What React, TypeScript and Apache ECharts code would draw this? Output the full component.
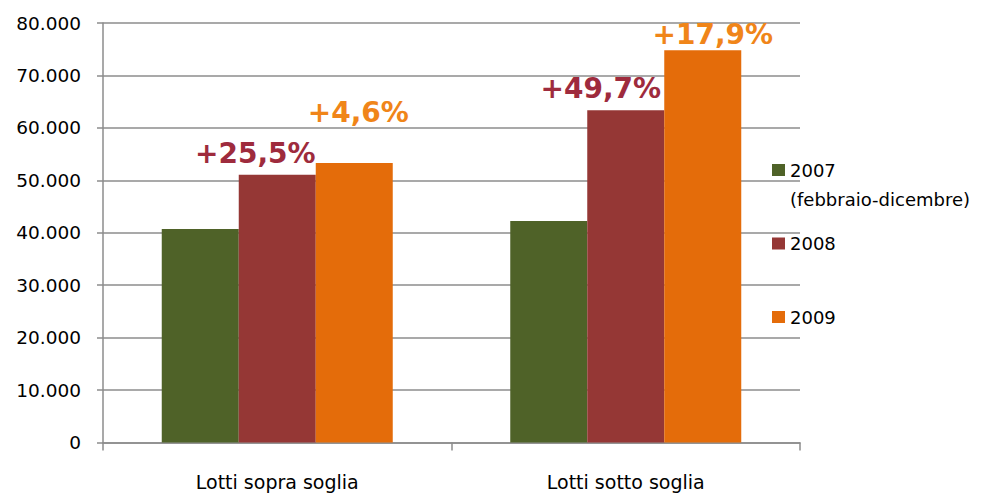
import React, { useEffect, useRef } from "react";
import * as echarts from "echarts";

const categories = ["Lotti sopra soglia", "Lotti sotto soglia"];
const seriesNames = ["2007", "2008", "2009"];
const values2007 = [40700, 42250];
const values2008 = [51050, 63350];
const values2009 = [53300, 74800];
const labels2008 = ["+25,5%", "+49,7%"];
const labels2009 = ["+4,6%", "+17,9%"];
const yTicks = [0, 10000, 20000, 30000, 40000, 50000, 60000, 70000, 80000];
const legendNote = "(febbraio-dicembre)";

const colors = ["#4F6228", "#953735", "#E46C0A"];
const labelColors = ["#9E2B3D", "#F08519"];

export default function App() {
  const ref = useRef<HTMLDivElement>(null);
  useEffect(() => {
    if (!ref.current) return;
    const chart = echarts.init(ref.current, undefined, { renderer: "svg" });
    const fmt = (v: number) =>
      String(Math.round(v)).replace(/\B(?=(\d{3})+(?!\d))/g, ".");
    const offs2008 = [[-22, -7], [-25, -8]];
    const offs2009 = [[4, -37], [10, -2]];
    const labelFont = {
      fontFamily: "DejaVu Sans",
      fontWeight: "bold" as const,
      fontSize: 28,
    };
    chart.setOption({
      animation: false,
      color: colors,
      grid: { left: 103, right: 190, top: 23, bottom: 50.5, containLabel: false },
      legend: {
        orient: "vertical",
        left: 772,
        top: 161,
        padding: 0,
        itemWidth: 13,
        itemHeight: 12,
        itemGap: 55.5,
        icon: "rect",
        data: seriesNames,
        textStyle: { fontFamily: "DejaVu Sans", fontSize: 18, color: "#000" },
      },
      graphic: [
        {
          type: "text",
          left: 790,
          top: 190,
          style: {
            text: legendNote,
            fontFamily: "DejaVu Sans",
            fontSize: 18,
            fill: "#000",
          },
        },
      ],
      xAxis: {
        type: "category",
        data: categories,
        axisLine: { show: true, lineStyle: { color: "#8c8c8c", width: 1.5 } },
        axisTick: { show: true, length: 8, lineStyle: { color: "#8c8c8c", width: 1.5 } },
        axisLabel: {
          margin: 30,
          fontFamily: "DejaVu Sans",
          fontSize: 19,
          color: "#000",
        },
      },
      yAxis: {
        type: "value",
        min: yTicks[0],
        max: yTicks[yTicks.length - 1],
        interval: 10000,
        axisLine: { show: true, lineStyle: { color: "#8c8c8c", width: 1.5 } },
        axisTick: { show: true, length: 6, lineStyle: { color: "#8c8c8c", width: 1.5 } },
        splitLine: { show: true, lineStyle: { color: "#8c8c8c", width: 1.5 } },
        axisLabel: {
          margin: 22,
          fontFamily: "DejaVu Sans",
          fontSize: 18.5,
          color: "#000",
          formatter: (v: number) => fmt(v),
        },
      },
      series: [
        {
          name: seriesNames[0],
          type: "bar",
          barWidth: 77,
          barGap: "0%",
          data: values2007,
          itemStyle: { color: colors[0] },
        },
        {
          name: seriesNames[1],
          type: "bar",
          barWidth: 77,
          barGap: "0%",
          itemStyle: { color: colors[1] },
          data: values2008.map((v, i) => ({
            value: v,
            label: {
              show: true,
              position: "top",
              distance: 0,
              offset: offs2008[i],
              formatter: labels2008[i],
              color: labelColors[0],
              ...labelFont,
            },
          })),
        },
        {
          name: seriesNames[2],
          type: "bar",
          barWidth: 77,
          barGap: "0%",
          itemStyle: { color: colors[2] },
          data: values2009.map((v, i) => ({
            value: v,
            label: {
              show: true,
              position: "top",
              distance: 0,
              offset: offs2009[i],
              formatter: labels2009[i],
              color: labelColors[1],
              ...labelFont,
            },
          })),
        },
      ],
    });
    return () => chart.dispose();
  }, []);
  return <div ref={ref} style={{ width: 990, height: 493, position: "absolute", left: 0, top: 0 }} />;
}
